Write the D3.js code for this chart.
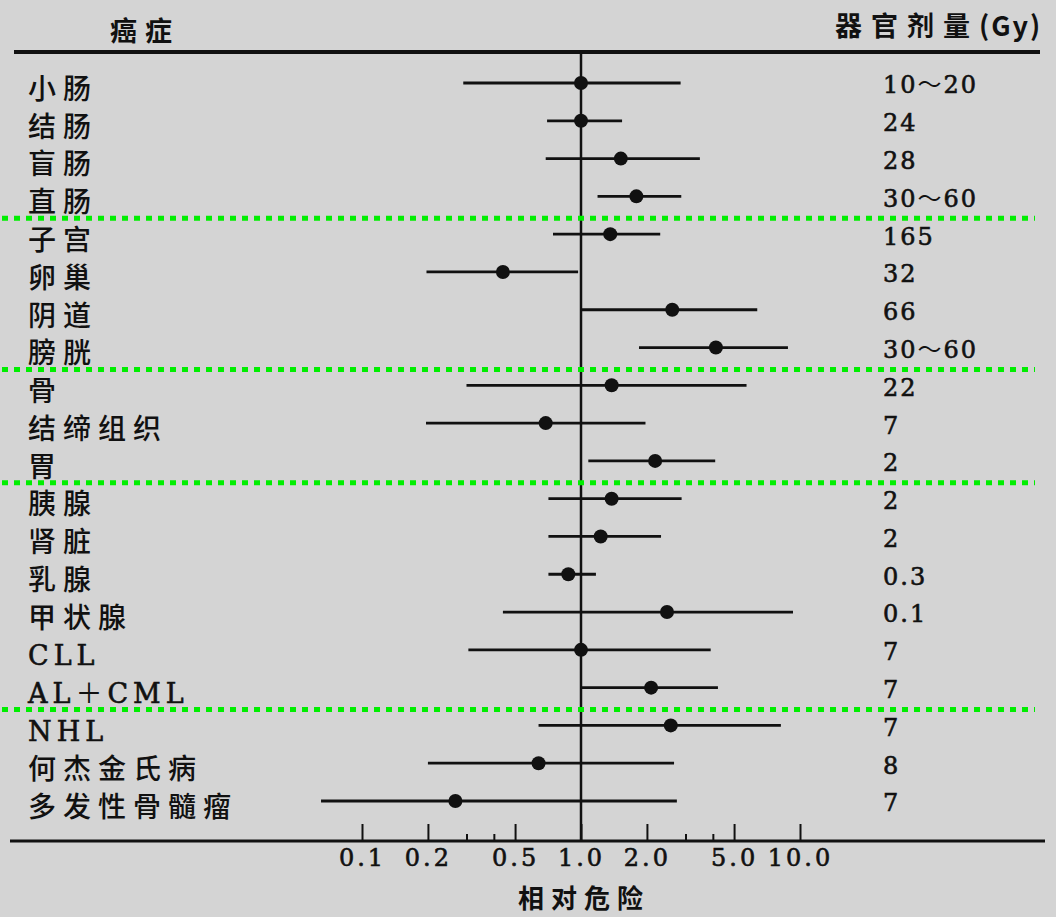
<!DOCTYPE html>
<html>
<head>
<meta charset="utf-8">
<script src="https://cdn.jsdelivr.net/npm/d3@7"></script>
<style>
  body { margin: 0; background: #d4d4d4; }
</style>
</head>
<body>
<div id="chart"></div>
<script>
'use strict';

// rows, top to bottom
const cancers = ['小肠', '结肠', '盲肠', '直肠', '子宫', '卵巢', '阴道', '膀胱', '骨', '结缔组织',
  '胃', '胰腺', '肾脏', '乳腺', '甲状腺', 'CLL', 'AL＋CML', 'NHL', '何杰金氏病', '多发性骨髓瘤'];
const relRisk = [1.0, 1.0, 1.52, 1.79, 1.36, 0.44, 2.61, 4.13, 1.38, 0.69,
  2.18, 1.38, 1.23, 0.875, 2.47, 1.0, 2.09, 2.57, 0.64, 0.267];
const lower = [0.29, 0.70, 0.69, 1.19, 0.745, 0.197, 1.01, 1.84, 0.30, 0.196,
  1.08, 0.71, 0.71, 0.71, 0.44, 0.306, 0.99, 0.64, 0.20, 0.065];
const upper = [2.85, 1.54, 3.49, 2.87, 2.30, 0.97, 6.38, 8.81, 5.70, 1.97,
  4.10, 2.88, 2.32, 1.17, 9.29, 3.91, 4.22, 8.18, 2.66, 2.74];
const doses = ['10～20', '24', '28', '30～60', '165', '32', '66', '30～60', '22', '7',
  '2', '2', '2', '0.3', '0.1', '7', '7', '7', '8', '7'];

// axis
const tickValues = [0.1, 0.2, 0.3, 0.4, 0.5, 1, 2, 3, 4, 5, 10];
const labelledTicks = [0.1, 0.2, 0.5, 1, 2, 5, 10];

// groups are split after these rows (green dotted lines)
const groupBreaks = [3, 7, 10, 16];

const width = 1056, height = 917;
const ink = '#111';
const serif = '"DejaVu Serif", "Liberation Serif", serif';
const cjk = '"Noto Sans CJK SC", "Noto Sans", sans-serif';
const isLatin = s => /^[A-Z＋+]+$/.test(s);
const isWide = s => s === '～' || s === '＋';

// split a string so that full-width signs can get the CJK font
function addSerifRuns(sel, strOf) {
  sel.selectAll('tspan')
    .data((d, i) => strOf(d, i).split(/([～＋])/).filter(s => s))
    .join('tspan')
      .attr('font-family', s => isWide(s) ? cjk : serif)
      .attr('stroke-width', s => isWide(s) ? 0 : 0.6)
      .text(s => s);
}

const svg = d3.select('#chart')
  .append('svg')
    .attr('width', width)
    .attr('height', height)
    .style('display', 'block');

svg.append('rect')
  .attr('width', width)
  .attr('height', height)
  .attr('fill', '#d4d4d4');

const x = d3.scaleLog()
  .domain([0.1, 10])
  .range([362, 800]);

const y = d3.scalePoint()
  .domain(cancers)
  .range([83, 801]);

const topY = 52, axisY = 841;

// header
svg.append('text')
  .attr('x', 110)
  .attr('y', 32)
  .attr('dy', '0.35em')
  .attr('font-family', cjk)
  .attr('font-weight', 'bold')
  .attr('font-size', 27)
  .attr('letter-spacing', 8)
  .attr('fill', ink)
  .text('癌症');

const unitText = svg.append('text')
  .attr('x', 835)
  .attr('y', 27)
  .attr('dy', '0.35em')
  .attr('font-family', cjk)
  .attr('font-weight', 'bold')
  .attr('font-size', 27)
  .attr('fill', ink);
unitText.append('tspan').attr('letter-spacing', 9).text('器官剂量');
unitText.append('tspan').attr('letter-spacing', 2).text('(Gy)');

svg.append('line')
  .attr('x1', 14).attr('x2', 1040)
  .attr('y1', topY).attr('y2', topY)
  .attr('stroke', ink)
  .attr('stroke-width', 4);

// reference line at RR = 1
svg.append('line')
  .attr('x1', x(1)).attr('x2', x(1))
  .attr('y1', topY).attr('y2', axisY)
  .attr('stroke', ink)
  .attr('stroke-width', 2.5);

// bottom axis
svg.append('line')
  .attr('x1', 10).attr('x2', 1045)
  .attr('y1', axisY).attr('y2', axisY)
  .attr('stroke', ink)
  .attr('stroke-width', 3);

const axis = svg.append('g')
  .attr('transform', `translate(0,${axisY})`)
  .call(d3.axisBottom(x)
    .tickValues(tickValues)
    .tickSize(-15)
    .tickPadding(8)
    .tickFormat(d => labelledTicks.includes(d) ? d3.format('.1f')(d) : ''));

axis.select('.domain').remove();
axis.selectAll('.tick line')
  .attr('stroke', ink)
  .attr('stroke-width', 2)
  .attr('y2', d => labelledTicks.includes(d) ? -17 : -7);
axis.selectAll('.tick text')
  .attr('font-family', serif)
  .attr('font-size', 24)
  .attr('letter-spacing', 3)
  .attr('fill', ink)
  .attr('stroke', ink)
  .attr('stroke-width', 0.6);

svg.append('text')
  .attr('x', 584)
  .attr('y', 899)
  .attr('dy', '0.35em')
  .attr('text-anchor', 'middle')
  .attr('font-family', cjk)
  .attr('font-weight', 'bold')
  .attr('font-size', 26)
  .attr('letter-spacing', 7)
  .attr('fill', ink)
  .text('相对危险');

// rows
const rows = svg.append('g')
  .selectAll('g')
  .data(cancers)
  .join('g')
    .attr('transform', d => `translate(0,${y(d)})`);

rows.append('line')
  .attr('x1', (d, i) => x(lower[i]))
  .attr('x2', (d, i) => x(upper[i]))
  .attr('stroke', ink)
  .attr('stroke-width', 2.8);

rows.append('circle')
  .attr('cx', (d, i) => x(relRisk[i]))
  .attr('r', 7)
  .attr('fill', ink);

// cancer names: CJK ones plain, latin ones in serif
const nameText = rows.append('text')
  .attr('x', 28)
  .attr('y', 6)
  .attr('dy', '0.35em')
  .attr('font-family', cjk)
  .attr('font-weight', d => isLatin(d) ? 'normal' : 500)
  .attr('font-size', d => isLatin(d) ? 27 : 28)
  .attr('letter-spacing', d => isLatin(d) ? 5 : 7)
  .attr('fill', ink)
  .attr('stroke', ink)
  .attr('stroke-width', 0);

nameText.filter(d => !isLatin(d)).text(d => d);
addSerifRuns(nameText.filter(d => isLatin(d)), d => d);

// dose column; the wide tilde comes from the CJK font
const doseText = rows.append('text')
  .attr('x', 883)
  .attr('y', 2)
  .attr('dy', '0.35em')
  .attr('font-size', 24)
  .attr('letter-spacing', 2)
  .attr('fill', ink)
  .attr('stroke', ink);

addSerifRuns(doseText, (d, i) => doses[cancers.indexOf(d)]);

// green dotted group separators
svg.append('g')
  .selectAll('line')
  .data(groupBreaks)
  .join('line')
    .attr('x1', 2)
    .attr('x2', 1035)
    .attr('y1', i => (y(cancers[i]) + y(cancers[i + 1])) / 2 + 3)
    .attr('y2', i => (y(cancers[i]) + y(cancers[i + 1])) / 2 + 3)
    .attr('stroke', '#00ee00')
    .attr('stroke-width', 5)
    .attr('stroke-dasharray', '6 6');
</script>
</body>
</html>
